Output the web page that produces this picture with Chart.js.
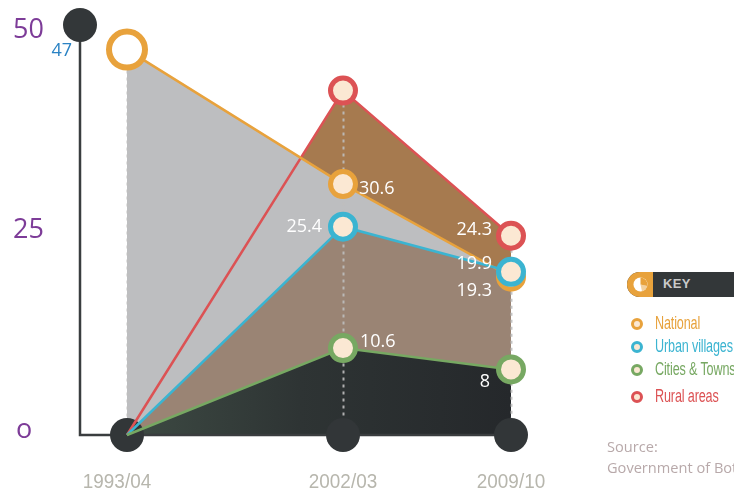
<!DOCTYPE html>
<html>
<head>
<meta charset="utf-8">
<title>Poverty headcount</title>
<script src="https://cdn.jsdelivr.net/npm/chart.js@4.4.1/dist/chart.umd.min.js"></script>
<style>
  html, body { margin: 0; padding: 0; background: #fff; }
  #wrap { position: relative; width: 734px; height: 492px; overflow: hidden; }
  #povertyChart { position: absolute; left: 0; top: 0; }
  .key {
    position: absolute; left: 627px; top: 272px; width: 130px; height: 25px;
    background: #333739; border-radius: 13px;
  }
  .key .icon {
    position: absolute; left: 0; top: 0; width: 26px; height: 25px;
    background: #e8a23c; border-radius: 13px 0 0 13px;
  }
  .key .icon svg { position: absolute; left: 6px; top: 5px; }
  .key span {
    position: absolute; left: 36px; top: 4px; color: #c9c9c9;
    font: bold 13px "Liberation Sans", sans-serif; letter-spacing: 0.3px;
  }
  .legend { position: absolute; left: 630px; top: 313px; }
  .legend div {
    position: relative; height: 23px; white-space: nowrap;
  }
  .legend div span {
    position: absolute; left: 25px; top: 0; line-height: 22px;
    font: 18px "Liberation Sans", sans-serif; letter-spacing: -0.2px;
    transform: scaleX(0.7); transform-origin: 0 50%;
  }
  .legend div i {
    position: absolute; left: 1px; top: 5px; width: 6px; height: 6px;
    border: 3px solid; border-radius: 50%; background: #fbe8d3;
  }
  .source {
    position: absolute; left: 607px; top: 436px; color: #b8a9aa;
    font: 14.6px "Open Sans", sans-serif; line-height: 21px; white-space: nowrap;
  }
</style>
</head>
<body>
<div id="wrap">
  <canvas id="povertyChart" width="734" height="492"></canvas>
  <div class="key">
    <div class="icon">
      <svg width="15" height="15" viewBox="0 0 15 15">
        <circle cx="7.5" cy="7.5" r="7" fill="#fff"/>
        <path d="M7.5 7.5 L7.5 0.5 A7 7 0 0 1 14.3 9 Z" fill="#e8a23c"/>
        <path d="M7.5 7.5 L14.3 9 A7 7 0 0 1 9 14.3 Z" fill="#e8a23c" opacity="0.5"/>
      </svg>
    </div>
    <span>KEY</span>
  </div>
  <div class="legend" id="legend"></div>
  <div class="source">Source:<br>Government of Botswana</div>
</div>

<script>
// survey periods and poverty headcount (%) per area
const periods = ["1993/04", "2002/03", "2009/10"];
const surveyYears = [1993, 2002, 2009];
const national = [47, 30.6, 19.3];
const urbanVillages = [0, 25.4, 19.9];
const citiesTowns = [0, 10.6, 8];
const ruralAreas = [0, 42, 24.3];
const yTicks = [0, 25, 50];
const yTickLabels = ["o", "25", "50"];

const seriesNames = ["National", "Urban villages", "Cities & Towns", "Rural areas"];
const seriesColors = ["#e8a23c", "#3bb4d1", "#77a862", "#dc5254"];
const cream = "#fbe8d3";

// legend
const legend = document.getElementById("legend");
seriesNames.forEach((name, i) => {
  const row = document.createElement("div");
  row.style.color = seriesColors[i];
  if (i === 3) row.style.marginTop = "4px";
  row.innerHTML = `<i style="border-color:${seriesColors[i]}"></i><span>${name.replace("&", "&amp;")}</span>`;
  legend.appendChild(row);
});

const toPoints = (values) => values.map((v, i) => ({ x: surveyYears[i], y: v }));

// where each value label sits relative to its point
const labelSpots = [
  { data: national, idx: 0, dx: -55, dy: 1, align: "right", color: "#2b83c4" },
  { data: national, idx: 1, dx: 16, dy: 5, align: "left" },
  { data: national, idx: 2, dx: -19, dy: 14, align: "right" },
  { data: urbanVillages, idx: 1, dx: -21, dy: 0, align: "right" },
  { data: urbanVillages, idx: 2, dx: -19, dy: -8, align: "right" },
  { data: citiesTowns, idx: 1, dx: 17, dy: -6, align: "left" },
  { data: citiesTowns, idx: 2, dx: -21, dy: 12, align: "right" },
  { data: ruralAreas, idx: 2, dx: -19, dy: -6, align: "right" },
];

const decor = {
  id: "decor",
  beforeDatasetsDraw(chart) {
    const { ctx, chartArea, scales: { x, y } } = chart;
    const y0 = y.getPixelForValue(0);
    ctx.save();

    // axis line
    ctx.strokeStyle = "#3a3d3f";
    ctx.lineWidth = 2.5;
    ctx.beginPath();
    ctx.moveTo(chartArea.left, y.getPixelForValue(50));
    ctx.lineTo(chartArea.left, y0);
    ctx.lineTo(x.getPixelForValue(surveyYears[2]), y0);
    ctx.stroke();

    // dotted drop lines from the highest point of each period
    ctx.strokeStyle = "rgba(190,190,190,0.9)";
    ctx.lineWidth = 2;
    ctx.setLineDash([3, 4]);
    surveyYears.forEach((yr, i) => {
      const top = Math.max(national[i], urbanVillages[i], citiesTowns[i], ruralAreas[i]);
      const px = Math.round(x.getPixelForValue(yr)) + 0.5;
      ctx.beginPath();
      ctx.moveTo(px, y.getPixelForValue(top));
      ctx.lineTo(px, y0);
      ctx.stroke();
    });
    ctx.restore();
  },
  afterDatasetsDraw(chart) {
    const { ctx, chartArea, scales: { x, y } } = chart;
    ctx.save();

    // knob at the top of the axis
    ctx.fillStyle = "#333739";
    ctx.beginPath();
    ctx.arc(chartArea.left, y.getPixelForValue(50), 17, 0, Math.PI * 2);
    ctx.fill();

    // y tick labels
    ctx.fillStyle = "#7d3c98";
    ctx.font = '27px "Open Sans", sans-serif';
    ctx.textAlign = "left";
    ctx.textBaseline = "middle";
    yTicks.forEach((t, i) => {
      const dy = t === 50 ? 5 : t === 0 ? -5 : 0;
      ctx.fillText(yTickLabels[i], t === 0 ? 16 : 13, y.getPixelForValue(t) + dy);
    });

    // period labels, squeezed a little like a condensed face
    ctx.fillStyle = "#b7b6ad";
    ctx.font = '21px "Liberation Sans", sans-serif';
    ctx.textAlign = "center";
    periods.forEach((p, i) => {
      const cx = x.getPixelForValue(surveyYears[i]) - (i === 0 ? 10 : 0);
      ctx.save();
      ctx.translate(cx, 482);
      ctx.scale(0.9, 1);
      ctx.fillText(p, 0, 0);
      ctx.restore();
    });

    // value labels
    ctx.font = '18px "Open Sans", sans-serif';
    labelSpots.forEach((s) => {
      const v = s.data[s.idx];
      ctx.fillStyle = s.color || "#ffffff";
      ctx.textAlign = s.align;
      ctx.fillText(String(v), x.getPixelForValue(surveyYears[s.idx]) + s.dx, y.getPixelForValue(v) + s.dy);
    });
    ctx.restore();
  }
};

function darkFill(c) {
  const chart = c.chart;
  if (!chart.chartArea) return "#2e3234";
  const x = chart.scales.x;
  const g = chart.ctx.createLinearGradient(x.getPixelForValue(surveyYears[0]), 0, x.getPixelForValue(surveyYears[2]), 0);
  g.addColorStop(0, "#3d4a43");
  g.addColorStop(0.45, "#2e3434");
  g.addColorStop(1, "#25282b");
  return g;
}

const lineStyle = (color) => ({
  borderColor: color,
  borderWidth: 2.5,
  pointBorderColor: color,
  pointBorderWidth: 5,
  pointBackgroundColor: cream,
  pointRadius: [0, 12.5, 12.5],
  pointHoverRadius: 12.5,
  tension: 0,
  clip: false,
  fill: "origin",
});

new Chart(document.getElementById("povertyChart"), {
  type: "line",
  data: {
    datasets: [
      { label: seriesNames[2], data: toPoints(citiesTowns), ...lineStyle(seriesColors[2]), backgroundColor: darkFill },
      { label: seriesNames[1], data: toPoints(urbanVillages), ...lineStyle(seriesColors[1]), backgroundColor: "#9a8474" },
      {
        label: seriesNames[0], data: toPoints(national), ...lineStyle(seriesColors[0]),
        backgroundColor: "#bdbec0",
        pointRadius: [18, 12.5, 12.5],
        pointBorderWidth: [6, 5, 5],
        pointBackgroundColor: ["#ffffff", cream, cream],
      },
      { label: seriesNames[3], data: toPoints(ruralAreas), ...lineStyle(seriesColors[3]), backgroundColor: "#a67a4f" },
      {
        label: "base", data: toPoints([0, 0, 0]),
        showLine: false, fill: false, clip: false,
        pointRadius: 17, pointBorderWidth: 0,
        pointBackgroundColor: "#323638", pointBorderColor: "#323638",
      },
    ],
  },
  options: {
    responsive: false,
    animation: false,
    layout: { padding: { left: 80, top: 25, right: 734 - 511, bottom: 492 - 435 } },
    scales: {
      x: { type: "linear", display: false, min: 1993 - 47 / 24, max: 2009 },
      y: { type: "linear", display: false, min: 0, max: 50 },
    },
    plugins: {
      legend: { display: false },
      tooltip: { enabled: false },
      filler: { drawTime: "beforeDatasetsDraw" },
    },
  },
  plugins: [decor],
});
</script>
</body>
</html>
